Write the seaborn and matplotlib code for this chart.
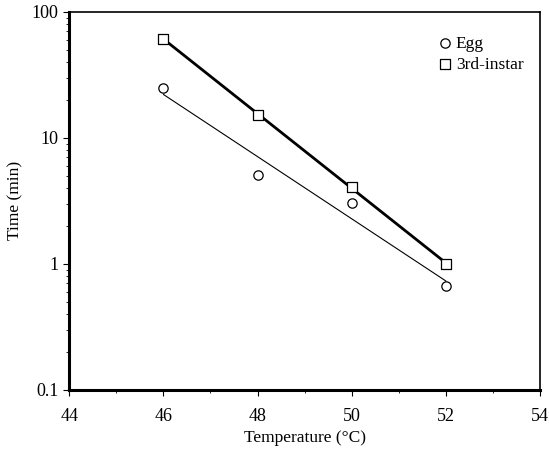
import numpy as np
import seaborn as sns
from matplotlib import pyplot as plt
from matplotlib.ticker import FixedLocator, LogLocator, NullFormatter

temps = [46, 48, 50, 52]
egg = [25, 5.1, 3.05, 0.67]
instar = [61, 15.3, 4.1, 1.0]

sns.set_style("ticks")
plt.rcParams['font.family'] = ['Liberation Serif', 'DejaVu Serif']
plt.rcParams['axes.edgecolor'] = 'black'
plt.rcParams['xtick.color'] = 'black'
plt.rcParams['ytick.color'] = 'black'
plt.rcParams['text.color'] = 'black'
plt.rcParams['axes.labelcolor'] = 'black'

fig = plt.figure(figsize=(5.49, 4.57), dpi=100)
ax = fig.add_axes([0.126, 0.147, 0.858, 0.827])

# log-linear fits
x = np.array(temps, dtype=float)
for vals, lw in [(egg, 0.8), (instar, 2.0)]:
    b, a = np.polyfit(x, np.log10(vals), 1)
    sns.lineplot(x=x, y=10 ** (a + b * x), color='black', linewidth=lw, ax=ax)

sns.scatterplot(x=temps, y=egg, marker='o', s=45, facecolor='white',
                edgecolor='black', linewidth=0.9, label='Egg', ax=ax, zorder=3)
sns.scatterplot(x=temps, y=instar, marker='s', s=45, facecolor='white',
                edgecolor='black', linewidth=0.9, label='3rd-instar', ax=ax, zorder=3)

ax.set_yscale('log')
ax.set_xlim(44, 54)
ax.set_ylim(0.1, 100)
ax.set_xticks([44, 46, 48, 50, 52, 54])
ax.xaxis.set_minor_locator(FixedLocator([45, 47, 49, 51, 53]))
ax.set_yticks([0.1, 1, 10, 100])
ax.set_yticklabels(['0.1', '1', '10', '100'])
ax.yaxis.set_minor_locator(LogLocator(base=10, subs=np.arange(2, 10)))
ax.yaxis.set_minor_formatter(NullFormatter())
ax.tick_params(which='major', direction='out', length=4, width=0.8, labelsize=13)
ax.tick_params(axis='x', which='major', pad=9)
ax.tick_params(which='minor', direction='out', length=2, width=0.6)

for side in ['left', 'bottom']:
    ax.spines[side].set_linewidth(2.2)
for side in ['top', 'right']:
    ax.spines[side].set_linewidth(1.2)

ax.set_xlabel('Temperature (°C)', fontsize=12.5, labelpad=4)
ax.set_ylabel('Time (min)', fontsize=12.5, labelpad=6)

leg = ax.legend(loc='upper right', bbox_to_anchor=(0.99, 0.97), frameon=False,
                fontsize=12.5, handletextpad=0.0, handlelength=1.2,
                borderaxespad=0.3, labelspacing=0.3, markerscale=1.0)

fig.savefig('out.png', dpi=100)
